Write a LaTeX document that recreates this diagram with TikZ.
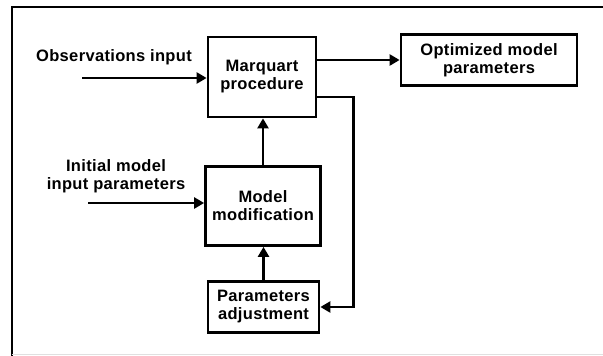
\documentclass[tikz,border=0pt]{standalone}
\usepackage{fontspec}
\setmainfont{Liberation Sans}[LetterSpace=2]
\usetikzlibrary{arrows.meta}

\begin{document}
\begin{tikzpicture}[x=1pt, y=-1pt, font=\fontsize{16.5}{18}\selectfont\bfseries,
			block/.style={draw, line width=2.8pt, align=center, inner sep=0pt},
			flow/.style={line width=2.8pt, -{Triangle[length=10pt, width=11pt]}},
			txt/.style={align=center, inner sep=0pt}]
			
			\useasboundingbox (0,0) rectangle (603,356);
			% frame
			\draw[line width=2pt] (603,6.5) -- (11.5,6.5) -- (11.5,356);
			\draw[black!12, line width=1pt] (11.5,354.5) -- (603,354.5);
			
			% blocks
			\node[block, minimum width=108pt, minimum height=80pt] (mq) at (262,77) {Marquart\\procedure};
			\node[block, minimum width=176pt, minimum height=51pt] (opt) at (489,60) {Optimized model\\parameters};
			\node[block, minimum width=115pt, minimum height=79pt] (mm) at (263,206) {Model\\modification};
			\node[block, minimum width=111pt, minimum height=51pt] (pa) at (263.5,307) {Parameters\\adjustment};
			
			% inputs
			\node[txt] (obs) at (114,57) {Observations input};
			\node[txt] (init) at (116,176) {Initial model\\input parameters};
			\coordinate (obsin) at (82,78);
			\coordinate (initin) at (88,203);
			\coordinate (fb) at (353.5,97);
			
			% connectors
			\draw[flow] (obsin) -- (obsin -| mq.west);
			\draw[flow] (initin) -- (initin -| mm.west);
			\draw[flow] (mq.east |- opt.west) -- (opt.west);
			\draw[flow] (mm.north) -- (mm.north |- mq.south);
			\draw[flow] (pa.north) -- (pa.north |- mm.south);
			\draw[flow] (fb -| mq.east) -- (fb) |- (pa.east);
		\end{tikzpicture}
\end{document}
